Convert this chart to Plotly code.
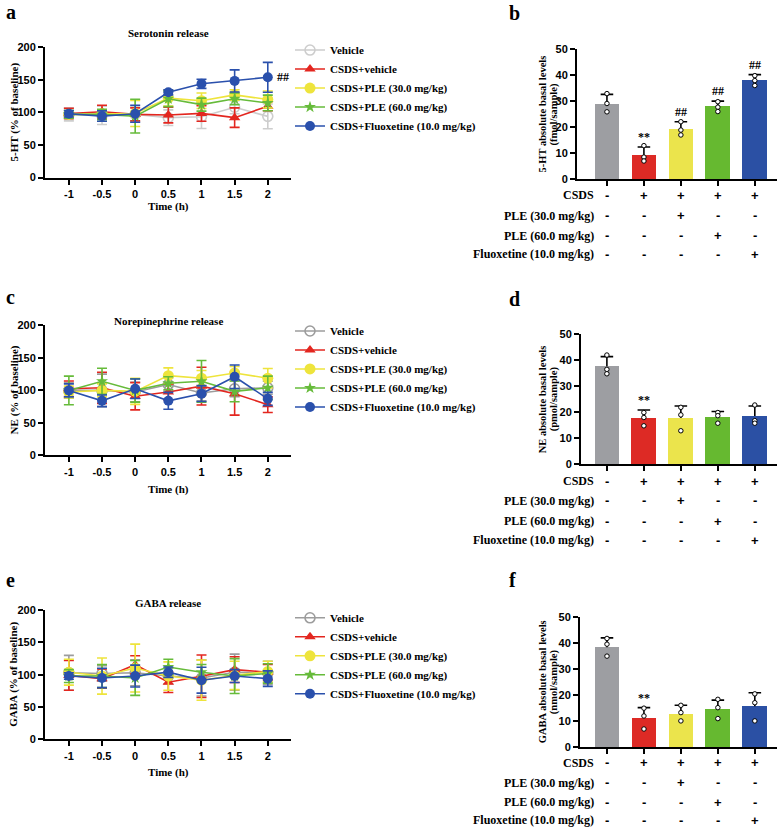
import plotly.graph_objects as go

W, H = 781, 836

# ---------------- data ----------------
times = [-1, -0.5, 0, 0.5, 1, 1.5, 2]
time_labels = ['-1', '-0.5', '0', '0.5', '1', '1.5', '2']
groups = ['Vehicle', 'CSDS+vehicle', 'CSDS+PLE (30.0 mg/kg)', 'CSDS+PLE (60.0 mg/kg)', 'CSDS+Fluoxetine (10.0 mg/kg)']

# Panel a: 5-HT (% of baseline)
ht_mean = {
    'Vehicle': [97, 95.5, 97, 92, 93.4, 108, 94],
    'CSDS+vehicle': [98.5, 101, 97, 96, 98.5, 92, 109.6],
    'CSDS+PLE (30.0 mg/kg)': [97, 98, 98.5, 122, 118, 127, 120],
    'CSDS+PLE (60.0 mg/kg)': [97, 97, 94.4, 121, 112, 121, 114.6],
    'CSDS+Fluoxetine (10.0 mg/kg)': [98, 94.4, 98, 131, 144, 148.5, 154],
}
ht_err = {
    'Vehicle': [10, 14, 12, 12, 18, 10, 19],
    'CSDS+vehicle': [8, 10, 10, 12, 12, 15, 7],
    'CSDS+PLE (30.0 mg/kg)': [6, 6, 20, 12, 12, 8, 13],
    'CSDS+PLE (60.0 mg/kg)': [6, 8, 26, 12, 10, 9, 12],
    'CSDS+Fluoxetine (10.0 mg/kg)': [5, 8, 13, 4, 7, 17, 23],
}
# Panel c: NE (% of baseline)
ne_mean = {
    'Vehicle': [100, 100, 97.5, 109, 96, 102.5, 104],
    'CSDS+vehicle': [102.5, 104, 91, 97.5, 106.5, 95, 78],
    'CSDS+PLE (30.0 mg/kg)': [97.5, 100, 98.5, 122.7, 118.7, 126.8, 118.7],
    'CSDS+PLE (60.0 mg/kg)': [100, 114, 100, 111, 114, 98.5, 104],
    'CSDS+Fluoxetine (10.0 mg/kg)': [100, 84, 102.5, 84, 95, 121, 87],
}
ne_err = {
    'Vehicle': [12, 25, 15, 10, 12, 12, 10],
    'CSDS+vehicle': [12, 24, 21, 12, 29, 33, 12],
    'CSDS+PLE (30.0 mg/kg)': [9, 10, 20, 12, 12, 10, 15],
    'CSDS+PLE (60.0 mg/kg)': [22, 20, 18, 10, 32, 16, 18],
    'CSDS+Fluoxetine (10.0 mg/kg)': [10, 9, 15, 13, 12, 18, 10],
}
# Panel e: GABA (% of baseline)
gaba_mean = {
    'Vehicle': [103, 102, 103, 98, 95, 104, 103],
    'CSDS+vehicle': [99, 94, 115.5, 88.5, 97.7, 108, 104],
    'CSDS+PLE (30.0 mg/kg)': [104, 98, 110.4, 98, 91.6, 99, 105],
    'CSDS+PLE (60.0 mg/kg)': [98, 98, 95, 112, 104, 98, 102],
    'CSDS+Fluoxetine (10.0 mg/kg)': [98, 95, 98, 104, 91.6, 98, 94],
}
gaba_err = {
    'Vehicle': [27, 12, 20, 12, 28, 28, 18],
    'CSDS+vehicle': [23, 15, 14, 16, 33, 20, 12],
    'CSDS+PLE (30.0 mg/kg)': [20, 28, 37, 22, 31, 22, 16],
    'CSDS+PLE (60.0 mg/kg)': [10, 18, 27, 12, 12, 27, 15],
    'CSDS+Fluoxetine (10.0 mg/kg)': [5, 15, 17, 8, 20, 10, 12],
}

# Bar panels
bar_x = [0, 1, 2, 3, 4]
ht_bar_mean = [28.9, 9.3, 19.4, 28.1, 38.2]
ht_bar_sd = [3.8, 3.2, 2.8, 2.0, 2.1]
ht_bar_pts = [[33, 29.2, 26], [13, 8.6, 7.1], [22.2, 19, 17.1], [29.9, 27.8, 26.1], [39.9, 38, 36.1]]
ht_bar_sig = ['', '**', '##', '##', '##']

ne_bar_mean = [37.7, 17.8, 17.8, 18.2, 18.6]
ne_bar_sd = [3.7, 3.1, 4.6, 2.1, 3.8]
ne_bar_pts = [[42, 36.5, 34.8], [19.9, 18, 14.8], [21.9, 19, 12.9], [19.9, 18.7, 15.8], [22.8, 16.8, 15.8]]
ne_bar_sig = ['', '**', '', '', '']

gaba_bar_mean = [38.4, 11.3, 12.9, 14.7, 15.7]
gaba_bar_sd = [3.6, 3.9, 3.2, 3.4, 5.2]
gaba_bar_pts = [[41.8, 39.6, 35], [15, 12, 7], [16.1, 13.3, 10.1], [18.4, 15.2, 11], [20.5, 17.1, 10.1]]
gaba_bar_sig = ['', '**', '', '', '']

row_labels = ['CSDS', 'PLE (30.0 mg/kg)', 'PLE (60.0 mg/kg)', 'Fluoxetine (10.0 mg/kg)']
row_signs = [
    ['-', '+', '+', '+', '+'],
    ['-', '-', '+', '-', '-'],
    ['-', '-', '-', '+', '-'],
    ['-', '-', '-', '-', '+'],
]

# ---------------- styles ----------------
SERIF = 'Liberation Serif, Times New Roman, serif'
SANS = 'Liberation Sans, Arial, sans-serif'
line_colors_a = {
    'Vehicle': '#cdcdcd', 'CSDS+vehicle': '#e3261f', 'CSDS+PLE (30.0 mg/kg)': '#eee43c',
    'CSDS+PLE (60.0 mg/kg)': '#66bb3a', 'CSDS+Fluoxetine (10.0 mg/kg)': '#2a50ac'}
line_colors_ce = dict(line_colors_a, **{'Vehicle': '#9c9c9c'})
symbols = {'Vehicle': 'circle-open', 'CSDS+vehicle': 'triangle-up', 'CSDS+PLE (30.0 mg/kg)': 'circle',
           'CSDS+PLE (60.0 mg/kg)': 'star', 'CSDS+Fluoxetine (10.0 mg/kg)': 'circle'}
msizes = {'Vehicle': 10, 'CSDS+vehicle': 10, 'CSDS+PLE (30.0 mg/kg)': 11,
          'CSDS+PLE (60.0 mg/kg)': 9, 'CSDS+Fluoxetine (10.0 mg/kg)': 10}
bar_colors = ['#9d9ea2', '#dd2a25', '#ebe44c', '#66b930', '#2b50a4']


def fx(px):
    return px / W


def fy(py):
    return 1 - py / H


fig = go.Figure()

line_panels = [
    ('x', 'y', ht_mean, ht_err, line_colors_a, 'legend'),
    ('x3', 'y3', ne_mean, ne_err, line_colors_ce, 'legend2'),
    ('x5', 'y5', gaba_mean, gaba_err, line_colors_ce, 'legend3'),
]
for xa, ya, means, errs, cols, leg in line_panels:
    for g in groups:
        c = cols[g]
        fig.add_trace(go.Scatter(
            x=times, y=means[g], xaxis=xa, yaxis=ya, name=g, legend=leg,
            mode='lines+markers',
            line=dict(color=c, width=1.6),
            marker=dict(symbol=symbols[g], size=msizes[g], color=c,
                        line=dict(color=c, width=1.6 if g == 'Vehicle' else 0)),
            error_y=dict(type='data', array=errs[g], color=c, thickness=1.6, width=5),
            hoverinfo='skip'))

bar_panels = [
    ('x2', 'y2', ht_bar_mean, ht_bar_sd, ht_bar_pts),
    ('x4', 'y4', ne_bar_mean, ne_bar_sd, ne_bar_pts),
    ('x6', 'y6', gaba_bar_mean, gaba_bar_sd, gaba_bar_pts),
]
for xa, ya, m, sd, pts in bar_panels:
    fig.add_trace(go.Bar(x=bar_x, y=m, xaxis=xa, yaxis=ya, width=0.67,
                         marker=dict(color=bar_colors, line=dict(width=0)),
                         showlegend=False, hoverinfo='skip'))
    ex, ey = [], []
    for i in bar_x:
        top = m[i] + sd[i]
        ex += [i, i, None, i - 0.17, i + 0.17, None]
        ey += [m[i], top, None, top, top, None]
    fig.add_trace(go.Scatter(x=ex, y=ey, xaxis=xa, yaxis=ya, mode='lines',
                             line=dict(color='black', width=1.6), showlegend=False, hoverinfo='skip'))
    px_, py_ = [], []
    for i in bar_x:
        for v in pts[i]:
            px_.append(i)
            py_.append(v)
    fig.add_trace(go.Scatter(x=px_, y=py_, xaxis=xa, yaxis=ya, mode='markers',
                             marker=dict(symbol='circle', size=4.5, color='white',
                                         line=dict(color='black', width=1)),
                             showlegend=False, hoverinfo='skip'))

tickfont = dict(family=SANS, size=11, color='black', weight='bold')
axis_common = dict(showline=True, linecolor='black', linewidth=2, ticks='outside', ticklen=5,
                   tickwidth=2, tickcolor='black', showgrid=False, zeroline=False, tickfont=tickfont,
                   fixedrange=True)

# pixel geometry
line_ydom = {'a': (42, 174), 'c': (324, 456), 'e': (613, 744)}
bar_geom = {'b': (577, -0.81, 44, 176), 'd': (581, -0.70, 333, 465), 'f': (580, -0.73, 620, 752)}
line_x_dom = [fx(45), fx(291)]

layout = dict(width=W, height=H, margin=dict(l=0, r=0, t=0, b=0),
              paper_bgcolor='white', plot_bgcolor='white', bargap=0)

for idx, key in zip(['', '3', '5'], ['a', 'c', 'e']):
    top, bot = line_ydom[key]
    layout['xaxis' + idx] = dict(axis_common, domain=line_x_dom, range=[-1.36, 2.35],
                                 tickvals=times, ticktext=time_labels, anchor='y' + idx)
    layout['yaxis' + idx] = dict(axis_common, domain=[fy(bot), fy(top)], range=[0, 200],
                                 tickvals=[0, 50, 100, 150, 200], anchor='x' + idx)

for idx, key in zip(['2', '4', '6'], ['b', 'd', 'f']):
    xleft, xmin, top, bot = bar_geom[key]
    layout['xaxis' + idx] = dict(axis_common, domain=[fx(xleft), fx(777)], range=[xmin, 4.6],
                                 tickvals=bar_x, ticktext=[''] * 5, anchor='y' + idx)
    layout['yaxis' + idx] = dict(axis_common, domain=[fy(bot), fy(top)], range=[0, 50],
                                 tickvals=[0, 10, 20, 30, 40, 50], anchor='x' + idx)

legend_tops = {'legend': 30, 'legend2': 315, 'legend3': 606}
for lg, ytop in legend_tops.items():
    layout[lg] = dict(x=fx(290), y=fy(ytop), xanchor='left', yanchor='top',
                      font=dict(family=SERIF, size=11, color='black', weight='bold'),
                      bgcolor='rgba(0,0,0,0)', itemwidth=30, tracegroupgap=0)

fig.update_layout(**layout)

ann = []


def text(x, y, s, size=11, family=SERIF, xanchor='center', yanchor='middle', angle=0, xref='paper', **kw):
    ann.append(dict(x=x, y=y, text=s, xref=xref, yref=kw.pop('yref', 'paper'), showarrow=False,
                    xanchor=xanchor, yanchor=yanchor, textangle=angle,
                    font=dict(family=family, size=size, color='black', weight='bold'), **kw))


# panel letters
for letter, (lx, ly) in {'a': (4, 6), 'b': (507, 7), 'c': (4, 295), 'd': (507, 297),
                         'e': (4, 582), 'f': (507, 582)}.items():
    text(fx(lx), fy(ly), letter, size=20, xanchor='left')

# line panel titles / axis labels
titles = [('Serotonin release', 27, '5-HT (% of baseline)', 203),
          ('Norepinephrine release', 320, 'NE (% of baseline)', 491),
          ('GABA release', 606, 'GABA (% of baseline)', 778)]
for (t, ty, yt, tl), key in zip(titles, ['a', 'c', 'e']):
    top, bot = line_ydom[key]
    text(fx(168), fy(ty), t, size=11)
    text(fx(14), fy((top + bot) / 2), yt, size=11, angle=-90)
    text(fx(168), fy(tl), 'Time (h)', size=11)

# ## next to last fluoxetine point in a
text(2, ht_mean['CSDS+Fluoxetine (10.0 mg/kg)'][-1], '##', size=12, xanchor='left',
     xref='x', yref='y', xshift=7)

ytitles = {'b': ('5-HT absolute basal levels', '(fmol/sample)'),
           'd': ('NE absolute basal levels', '(pmol/sample)'),
           'f': ('GABA absolute basal levels', '(nmol/sample)')}
rows_y = {'b': [192, 213, 233, 252], 'd': [482, 502, 523, 542], 'f': [768, 788, 808, 826]}
sigs = {'b': (ht_bar_mean, ht_bar_sd, ht_bar_sig, '2'),
        'd': (ne_bar_mean, ne_bar_sd, ne_bar_sig, '4'),
        'f': (gaba_bar_mean, gaba_bar_sd, gaba_bar_sig, '6')}
for key in ['b', 'd', 'f']:
    xleft, xmin, top, bot = bar_geom[key]
    l1, l2 = ytitles[key]
    text(fx(542), fy((top + bot) / 2), l1, size=10.5, angle=-90)
    text(fx(554), fy((top + bot) / 2), l2, size=10.5, angle=-90)
    m, sd, sg, idx = sigs[key]
    for i in bar_x:
        if sg[i]:
            text(i, m[i] + sd[i], sg[i], size=12, xref='x' + idx, yref='y' + idx,
                 yanchor='bottom', yshift=1)
    for r, lab in enumerate(row_labels):
        ry = rows_y[key][r]
        text(fx(596), fy(ry), lab, size=12, xanchor='right')
        for i in bar_x:
            text(i, fy(ry), row_signs[r][i], size=13, family=SANS, xref='x' + idx)

fig.update_layout(annotations=ann)
fig.write_html(
    'out.html', config={'displayModeBar': False},
    post_script=("document.documentElement.style.margin='0px';document.body.style.margin='0px';"
                 "document.body.style.padding='0px';document.documentElement.style.overflow='hidden';"
                 "var g=document.getElementById('{plot_id}');g.style.position='absolute';"
                 "g.style.left='0px';g.style.top='0px';"))
